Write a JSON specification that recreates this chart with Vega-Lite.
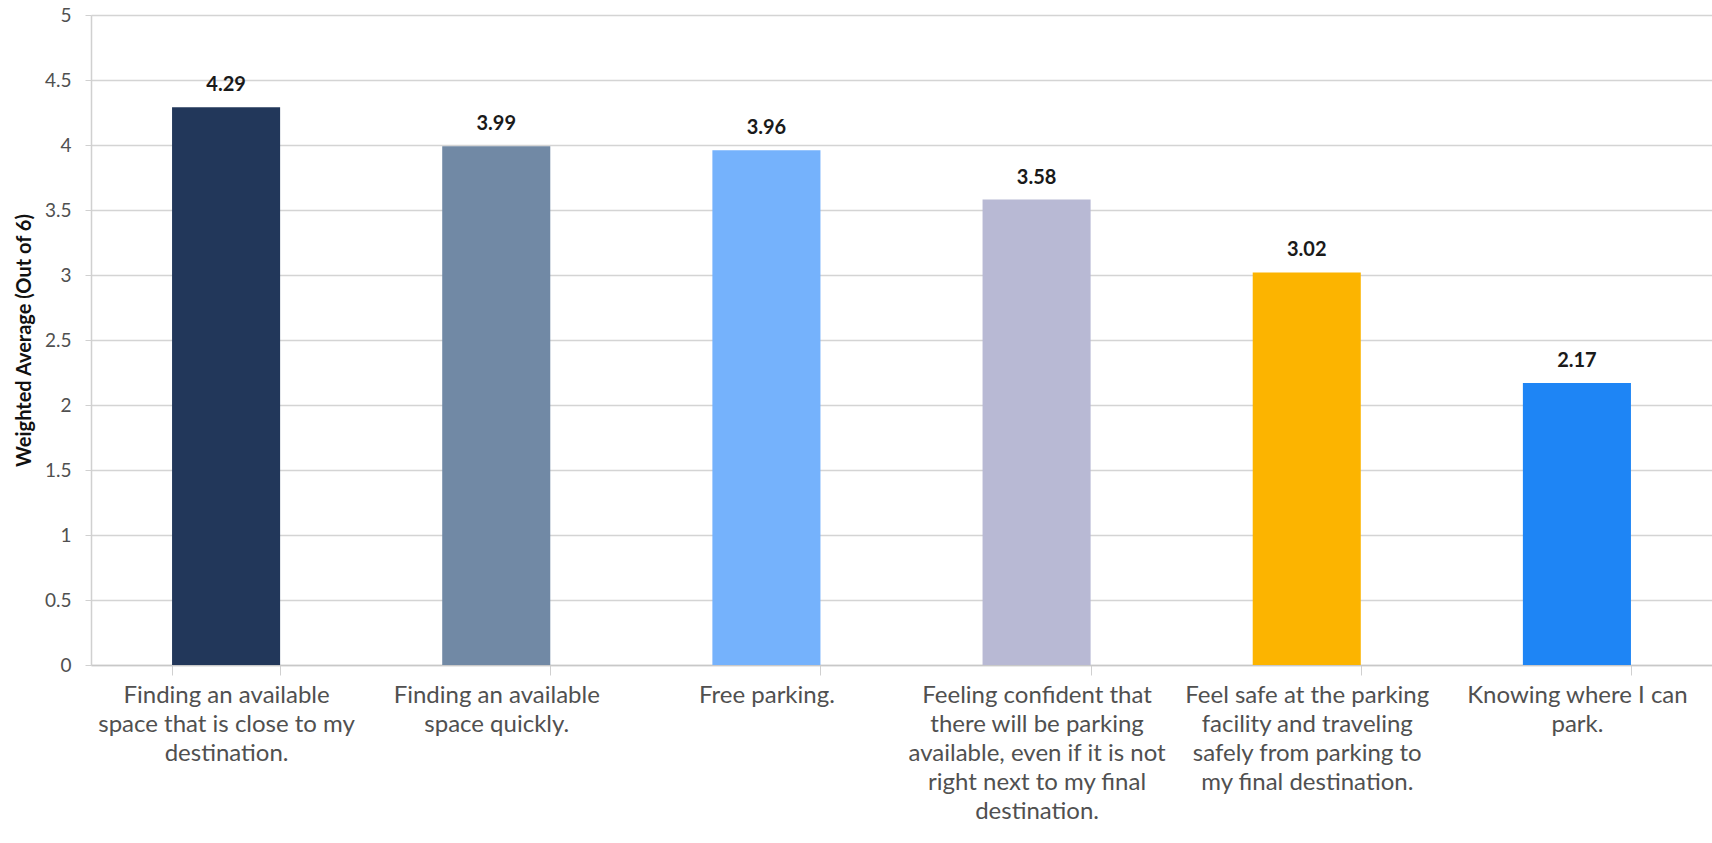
{
  "$schema": "https://vega.github.io/schema/vega-lite/v6.json",
  "autosize": {"type": "none"},
  "width": 1621,
  "height": 650,
  "padding": {"left": 91, "top": 15, "right": 0, "bottom": 178},
  "background": "#ffffff",
  "config": {
    "view": {"stroke": null},
    "font": "Lato",
    "axis": {"labelFont": "Lato", "titleFont": "Lato"}
  },
  "data": {
    "values": [
      {"factor": "Finding an available\nspace that is close to my\ndestination.", "avg": 4.29, "color": "#22375A"},
      {"factor": "Finding an available\nspace quickly.", "avg": 3.99, "color": "#7189A5"},
      {"factor": "Free parking.", "avg": 3.96, "color": "#75B2FC"},
      {"factor": "Feeling confident that\nthere will be parking\navailable, even if it is not\nright next to my final\ndestination.", "avg": 3.58, "color": "#B8B9D4"},
      {"factor": "Feel safe at the parking\nfacility and traveling\nsafely from parking to\nmy final destination.", "avg": 3.02, "color": "#FCB400"},
      {"factor": "Knowing where I can\npark.", "avg": 2.17, "color": "#1E85F5"}
    ]
  },
  "encoding": {
    "x": {
      "field": "factor",
      "type": "nominal",
      "sort": null,
      "scale": {"paddingInner": 0.6, "paddingOuter": 0.3},
      "axis": {
        "title": null,
        "labelAngle": 0,
        "labelExpr": "split(datum.label, '\\n')",
        "labelFontSize": 24,
        "labelLineHeight": 29,
        "labelColor": "#505050",
        "labelBaseline": "top",
        "labelPadding": 8,
        "labelLimit": 400,
        "tickBand": "extent",
        "tickSize": 10,
        "tickColor": "#d0d0d0",
        "domainColor": "#c8c8c8",
        "domainWidth": 1.5,
        "grid": false
      }
    },
    "y": {
      "field": "avg",
      "type": "quantitative",
      "scale": {"domain": [0, 5], "nice": false},
      "axis": {
        "title": "Weighted Average (Out of 6)",
        "titleFontSize": 20,
        "titleFontWeight": "bold",
        "titleColor": "#111111",
        "titleX": -57,
        "values": [0, 0.5, 1, 1.5, 2, 2.5, 3, 3.5, 4, 4.5, 5],
        "format": ".1~f",
        "labelFontSize": 19,
        "labelColor": "#505050",
        "labelPadding": 14,
        "tickSize": 6,
        "tickColor": "#d0d0d0",
        "gridColor": "#d4d4d4",
        "gridWidth": 1.5,
        "domainColor": "#d0d0d0",
        "domainWidth": 1.5
      }
    }
  },
  "layer": [
    {
      "mark": {"type": "bar"},
      "encoding": {
        "color": {"field": "color", "type": "nominal", "scale": null, "legend": null}
      }
    },
    {
      "mark": {"type": "text", "baseline": "alphabetic", "dy": -16, "fontSize": 20, "fontWeight": "bold", "color": "#1a1a1a"},
      "encoding": {
        "text": {"field": "avg", "type": "quantitative", "format": ".2f"}
      }
    }
  ]
}
